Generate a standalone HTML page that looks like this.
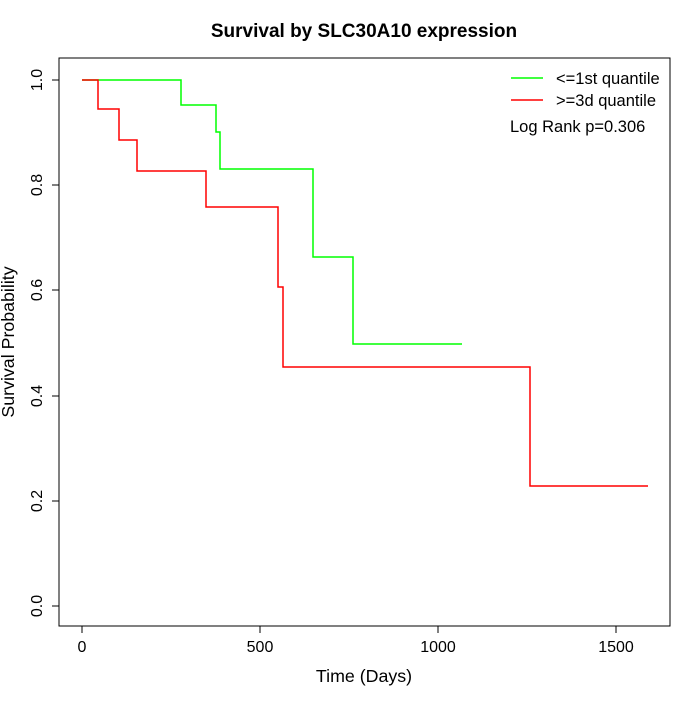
<!DOCTYPE html>
<html><head><style>body{margin:0;background:#fff}</style></head><body>
<svg width="700" height="700" xmlns="http://www.w3.org/2000/svg" font-family="Liberation Sans, sans-serif">
<rect width="700" height="700" fill="#fff"/>
<text x="364" y="37" text-anchor="middle" font-size="19" font-weight="bold">Survival by SLC30A10 expression</text>
<rect x="59" y="58" width="611" height="568" fill="none" stroke="#000"/>
<g stroke="#000">
<line x1="82" y1="626" x2="616" y2="626"/>
<line x1="82" y1="626" x2="82" y2="633"/><line x1="260" y1="626" x2="260" y2="633"/><line x1="438" y1="626" x2="438" y2="633"/><line x1="616" y1="626" x2="616" y2="633"/>
<line x1="59" y1="80" x2="59" y2="606"/>
<line x1="52" y1="80" x2="59" y2="80"/><line x1="52" y1="185" x2="59" y2="185"/><line x1="52" y1="290" x2="59" y2="290"/><line x1="52" y1="396" x2="59" y2="396"/><line x1="52" y1="501" x2="59" y2="501"/><line x1="52" y1="606" x2="59" y2="606"/>
</g>
<g font-size="16" text-anchor="middle">
<text x="82" y="652">0</text><text x="260" y="652">500</text><text x="438" y="652">1000</text><text x="616" y="652">1500</text>
<text x="364" y="682" font-size="17.8">Time (Days)</text>
<g transform="translate(42,0)">
<text transform="translate(0,80) rotate(-90)">1.0</text>
<text transform="translate(0,185) rotate(-90)">0.8</text>
<text transform="translate(0,290) rotate(-90)">0.6</text>
<text transform="translate(0,396) rotate(-90)">0.4</text>
<text transform="translate(0,501) rotate(-90)">0.2</text>
<text transform="translate(0,606) rotate(-90)">0.0</text>
</g>
<text transform="translate(14,342) rotate(-90)" font-size="17.8">Survival Probability</text>
</g>
<polyline fill="none" stroke="#00ff00" stroke-width="1.5" points="82,80 181,80 181,105 216,105 216,132 220,132 220,169 313,169 313,257 353,257 353,344 462,344"/>
<polyline fill="none" stroke="#ff0000" stroke-width="1.5" points="82,80 98,80 98,109 119,109 119,140 137,140 137,171 206,171 206,207 278,207 278,287 283,287 283,367 530,367 530,486 648,486"/>
<line x1="511" y1="78" x2="543" y2="78" stroke="#00ff00" stroke-width="1.5"/>
<line x1="511" y1="100" x2="543" y2="100" stroke="#ff0000" stroke-width="1.5"/>
<g font-size="16.5">
<text x="556" y="84">&lt;=1st quantile</text>
<text x="556" y="106">&gt;=3d quantile</text>
<text x="510" y="132">Log Rank p=0.306</text>
</g>
</svg>
</body></html>
